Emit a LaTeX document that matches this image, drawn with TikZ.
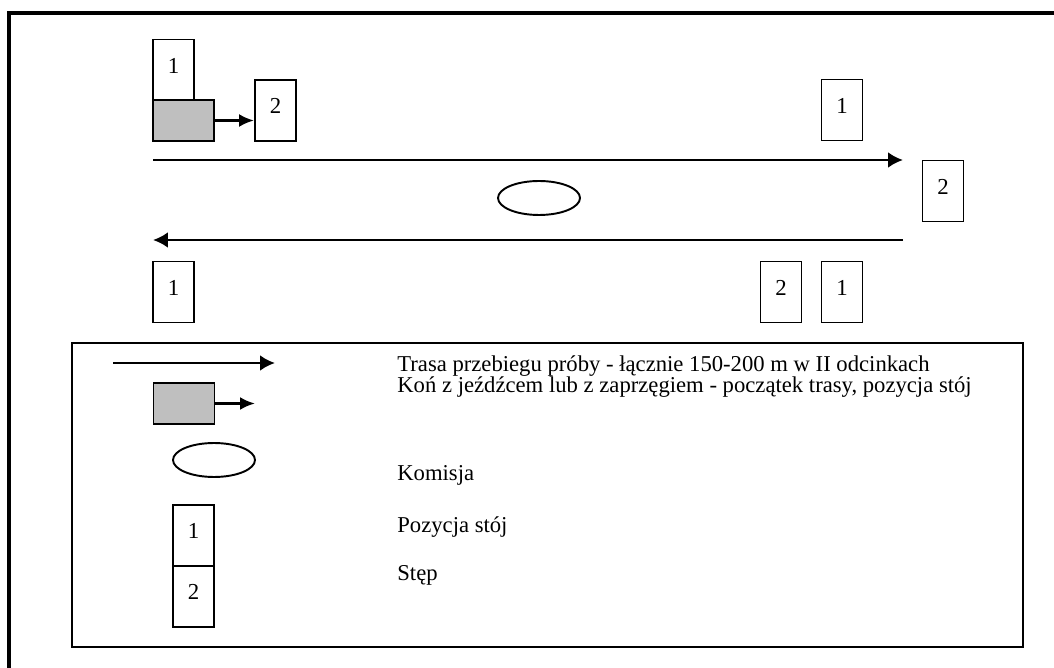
\documentclass[tikz,border=0pt]{standalone}
\usepackage{fontspec}
\setmainfont{Liberation Serif}
\usepackage{tikz}
\usetikzlibrary{calc}
\usetikzlibrary{arrows.meta}
\usetikzlibrary{shapes}
\usetikzlibrary{positioning}
\usetikzlibrary{shapes.geometric}

\tikzset{
  posbox/.style={rectangle, draw=black, line width=1.1pt, minimum width=0.82cm, minimum height=1.22cm, inner sep=0pt, text depth=0.5em, font=\fontsize{13pt}{15pt}\selectfont},
  horse/.style={rectangle, draw=black, fill=black!25, line width=1.1pt, minimum width=1.22cm, minimum height=0.82cm, inner sep=0pt},
  jury/.style={ellipse, draw=black, line width=1.1pt, minimum width=1.64cm, minimum height=0.68cm, inner sep=0pt},
  route/.style={-{Latex[length=0.3cm, width=0.32cm]}, line width=1.6pt},
  move/.style={-{Latex[length=0.3cm, width=0.26cm]}, line width=1.5pt},
  txt/.style={anchor=base west, inner sep=0pt, font=\fontsize{12.9pt}{15pt}\selectfont}
}

\begin{document}
\begin{tikzpicture}[x=0.02cm, y=-0.02cm]
\useasboundingbox (0, 0) rectangle (1054, 668);
% frame
\draw [line width=1.9pt] (9, 668) -- (9, 13) -- (1060, 13);

% course
\node [posbox] (P1A) at (173.5, 70) {1};
\node [horse] (H) at (183.5, 120.5) {};
\node [posbox] (P2A) at (275.5, 110.5) {2};
\node [posbox] (P1B) at (842, 110) {1};
\node [posbox] (P2B) at (943, 191) {2};
\node [jury] (K) at (539, 198) {};
\node [posbox] (P1C) at (173.5, 292) {1};
\node [posbox] (P2C) at (781, 292) {2};
\node [posbox] (P1D) at (842, 292) {1};
\coordinate (T0) at (153, 160);
\coordinate (T1) at (903, 160);
\coordinate (B0) at (903, 240);
\coordinate (B1) at (153, 240);
\draw [move] (H.east) to (H.east -| P2A.west);
\draw [route] (T0) to (T1);
\draw [route] (B0) to (B1);

% legend
\node [rectangle, draw=black, line width=1.1pt, minimum width=19.02cm, minimum height=6.08cm, inner sep=0pt] (LEG) at (547.5, 495) {};
\coordinate (LA0) at (113, 363);
\coordinate (LA1) at (275, 363);
\draw [route] (LA0) to (LA1);
\node [horse] (LH) at (184, 403.5) {};
\coordinate (LH1) at (255, 403.5);
\draw [move] (LH) to (LH1);
\node [jury] (LK) at (214, 460) {};
\node [posbox] (L1) at (193.5, 535.5) {1};
\node [posbox] (L2) at (193.5, 596.5) {2};
\node [txt] (T1a) at (397, 372) {Trasa przebiegu próby - łącznie 150-200 m w II odcinkach};
\node [txt] (T1b) at (397, 393) {Koń z jeźdźcem lub z zaprzęgiem - początek trasy, pozycja stój};
\node [txt] (T2) at (397, 480) {Komisja};
\node [txt] (T3) at (397, 532) {Pozycja stój};
\node [txt] (T4) at (397, 580) {Stęp};
\end{tikzpicture}
\end{document}
